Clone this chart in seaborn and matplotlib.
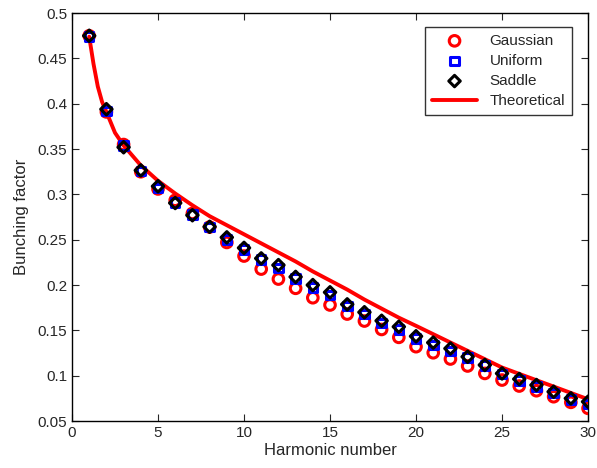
import numpy as np
import pandas as pd
import matplotlib
matplotlib.use("Agg")
import matplotlib.pyplot as plt
import seaborn as sns

# harmonic numbers for the simulated points
harmonics = list(range(1, 31))

gaussian = [0.475, 0.391, 0.355, 0.325, 0.306, 0.2935, 0.279, 0.264, 0.247, 0.232,
            0.2176, 0.2066, 0.1964, 0.186, 0.178, 0.168, 0.1603, 0.151, 0.1423, 0.132,
            0.1253, 0.1184, 0.1107, 0.1025, 0.0952, 0.0886, 0.0834, 0.0768, 0.0706, 0.064]

uniform = [0.474, 0.392, 0.354, 0.326, 0.307, 0.291, 0.278, 0.264, 0.250, 0.239,
           0.228, 0.219, 0.207, 0.197, 0.189, 0.177, 0.168, 0.158, 0.151, 0.141,
           0.134, 0.127, 0.120, 0.111, 0.102, 0.095, 0.088, 0.081, 0.074, 0.069]

saddle = [0.475, 0.394, 0.352, 0.3265, 0.309, 0.2905, 0.277, 0.2643, 0.2526, 0.241,
          0.2294, 0.222, 0.209, 0.200, 0.192, 0.1787, 0.170, 0.1606, 0.154, 0.1435,
          0.1365, 0.130, 0.1209, 0.1118, 0.1025, 0.0963, 0.0897, 0.0823, 0.075, 0.0713]

# theoretical curve
theory_n = [1, 1.25, 1.5, 1.75, 2, 2.5, 3, 4, 5, 6, 7, 8, 9, 10, 11, 12, 13, 14, 15,
            16, 17, 18, 19, 20, 21, 22, 23, 24, 25, 26, 27, 28, 29, 30]
theory_b = [0.474, 0.444, 0.419, 0.402, 0.391, 0.368, 0.354, 0.332, 0.315, 0.301,
            0.288, 0.276, 0.266, 0.256, 0.246, 0.236, 0.226, 0.215, 0.205, 0.195,
            0.184, 0.174, 0.164, 0.155, 0.1458, 0.1366, 0.1274, 0.1182, 0.109,
            0.102, 0.095, 0.088, 0.081, 0.074]

xticks = [0, 5, 10, 15, 20, 25, 30]
yticks = [0.05, 0.1, 0.15, 0.2, 0.25, 0.3, 0.35, 0.4, 0.45, 0.5]
ytick_labels = ["0.05", "0.1", "0.15", "0.2", "0.25", "0.3", "0.35", "0.4", "0.45", "0.5"]

sns.set_style("ticks")
plt.rcParams["font.family"] = ["Liberation Sans", "DejaVu Sans"]

fig = plt.figure(figsize=(5.97, 4.68), dpi=100)
ax = fig.add_axes([0.1206, 0.1004, 0.8644, 0.8716])

theory_df = pd.DataFrame({"n": theory_n, "b": theory_b})
sns.lineplot(data=theory_df, x="n", y="b", color="red", linewidth=2.8,
             ax=ax, label="Theoretical", zorder=1)

series = [
    ("Gaussian", gaussian, "o", "red", 58),
    ("Uniform", uniform, "s", "blue", 38),
    ("Saddle", saddle, "D", "black", 34),
]
for name, vals, marker, color, size in series:
    df = pd.DataFrame({"n": harmonics, "b": vals})
    sns.scatterplot(data=df, x="n", y="b", marker=marker, s=size,
                    facecolors="none", edgecolors=color, linewidth=2.2,
                    ax=ax, label=name, zorder=3)

ax.set_xlim(0, 30)
ax.set_ylim(0.05, 0.5)
ax.set_xticks(xticks)
ax.set_yticks(yticks)
ax.set_yticklabels(ytick_labels)
ax.tick_params(direction="in", top=True, right=True, labelsize=11, length=5, width=0.8)
for sp in ax.spines.values():
    sp.set_linewidth(1.0)
    sp.set_color("black")
ax.set_xlabel("Harmonic number", fontsize=12, labelpad=2)
ax.set_ylabel("Bunching factor", fontsize=12, labelpad=6)

handles, labels = ax.get_legend_handles_labels()
order = [labels.index(k) for k in ["Gaussian", "Uniform", "Saddle", "Theoretical"]]
leg = ax.legend([handles[i] for i in order], [labels[i] for i in order],
                loc="upper right", bbox_to_anchor=(0.969, 0.966), borderaxespad=0,
                fontsize=11, frameon=True, fancybox=False, edgecolor="black",
                handlelength=3.0, borderpad=0.45, labelspacing=0.4)
leg.get_frame().set_linewidth(1.0)

fig.savefig("out.png", dpi=100)
